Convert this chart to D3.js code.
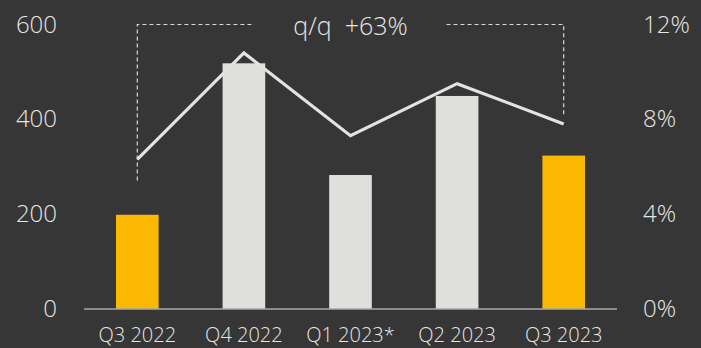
<!DOCTYPE html>
<html>
<head>
<meta charset="utf-8">
<script src="https://cdn.jsdelivr.net/npm/d3@7"></script>
<style>
  html, body { margin: 0; padding: 0; background: #363636; }
  svg { display: block; }
  text { font-family: "Open Sans", "Noto Sans", sans-serif; font-weight: 300; fill: #e6e6e2; }
</style>
</head>
<body>
<svg id="chart" width="701" height="348"></svg>
<script>
// Quarterly values (bars, left axis) and margin (line, right axis)
const quarters = ["Q3 2022", "Q4 2022", "Q1 2023*", "Q2 2023", "Q3 2023"];
const barValues = [198, 518, 282, 449, 323];
const marginPct = [6.3, 10.8, 7.3, 9.5, 7.8];
const highlighted = ["Q3 2022", "Q3 2023"];
const leftTicks = [0, 200, 400, 600];
const rightTicks = [0, 4, 8, 12];
const changeLabel = "q/q  +63%";

const svg = d3.select("#chart");
const plotLeft = 84, plotRight = 617, plotTop = 24.5, plotBottom = 308.5;

const x = d3.scaleBand().domain(quarters).range([plotLeft, plotRight]).paddingInner(0.6).paddingOuter(0.3);
const y = d3.scaleLinear().domain([0, 600]).range([plotBottom, plotTop]);
const y2 = d3.scaleLinear().domain([0, 12]).range([plotBottom, plotTop]);

function styleLabels(sel, size) {
  sel.selectAll("text")
    .attr("font-size", size)
    .attr("font-family", null)
    .style("fill", "#e6e6e2");
}

// Left axis labels
const yAxis = d3.axisLeft(y).tickValues(leftTicks).tickSize(0).tickPadding(0);
svg.append("g").attr("transform", "translate(57,0)").call(yAxis)
  .call(g => g.select(".domain").remove())
  .call(g => styleLabels(g, 24));

// Right axis labels
const y2Axis = d3.axisRight(y2).tickValues(rightTicks).tickFormat(d => d + "%").tickSize(0).tickPadding(0);
svg.append("g").attr("transform", "translate(643,0)").call(y2Axis)
  .call(g => g.select(".domain").remove())
  .call(g => styleLabels(g, 24));

// Bars
svg.append("g").selectAll("rect").data(quarters).join("rect")
  .attr("x", d => x(d))
  .attr("width", x.bandwidth())
  .attr("y", (d, i) => y(barValues[i]))
  .attr("height", (d, i) => y(0) - y(barValues[i]))
  .attr("fill", d => highlighted.includes(d) ? "#fbb800" : "#dfe0db");

// Baseline
svg.append("line").attr("x1", plotLeft).attr("x2", plotRight).attr("y1", plotBottom + 0.5).attr("y2", plotBottom + 0.5)
  .attr("stroke", "#dfe0db").attr("stroke-width", 1.2);

// Category labels
const xAxis = d3.axisBottom(x).tickSize(0).tickPadding(0);
svg.append("g").attr("transform", `translate(0,${plotBottom + 19})`).call(xAxis)
  .call(g => g.select(".domain").remove())
  .call(g => styleLabels(g, 20));

// Margin line
const cx = d => x(d) + x.bandwidth() / 2;
const line = d3.line().x((d, i) => cx(quarters[i])).y(d => y2(d));
svg.append("path").datum(marginPct).attr("d", line)
  .attr("fill", "none").attr("stroke", "#e3e3df").attr("stroke-width", 3.2)
  .attr("stroke-linejoin", "miter");

// q/q bracket between the highlighted quarters
const xa = cx(highlighted[0]), xb = cx(highlighted[1]);
const by = 24.5;
const dash = { stroke: "#d8d8d4", "stroke-width": 1.2, "stroke-dasharray": "4,3", fill: "none" };
const midX = (xa + xb) / 2;
const gapHalf = 96;
function dashed(points) {
  const p = svg.append("path").attr("d", d3.line()(points));
  Object.entries(dash).forEach(([k, v]) => p.attr(k, v));
}
dashed([[xa, y2(marginPct[0]) + 21], [xa, by], [midX - gapHalf, by]]);
dashed([[midX + gapHalf, by], [xb, by], [xb, y2(marginPct[4]) - 9]]);
svg.append("text").attr("x", midX).attr("y", by + 10).attr("text-anchor", "middle")
  .attr("font-size", 25).style("white-space", "pre").text(changeLabel);
</script>
</body>
</html>
